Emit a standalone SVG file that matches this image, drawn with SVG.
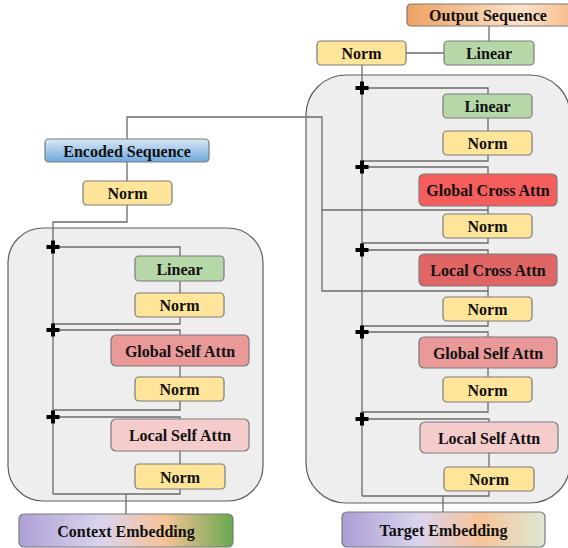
<svg xmlns="http://www.w3.org/2000/svg" width="568" height="548" viewBox="0 0 568 548">
<defs>
<linearGradient id="gBlue" x1="0" y1="0" x2="0" y2="1"><stop offset="0" stop-color="#d9e8f7"/><stop offset="1" stop-color="#6fa8dc"/></linearGradient>
<linearGradient id="gOrange" x1="0" y1="0" x2="1" y2="0"><stop offset="0" stop-color="#eda262"/><stop offset="0.7" stop-color="#fde3cc"/><stop offset="1" stop-color="#f6bd8b"/></linearGradient>
<linearGradient id="gCtx" x1="0" y1="0" x2="1" y2="0"><stop offset="0" stop-color="#aea0d4"/><stop offset="0.38" stop-color="#dad3ee"/><stop offset="0.68" stop-color="#f7c398"/><stop offset="1" stop-color="#6aa84f"/></linearGradient>
<linearGradient id="gTgt" x1="0" y1="0" x2="1" y2="0"><stop offset="0" stop-color="#aa9ed3"/><stop offset="0.38" stop-color="#dbd4ee"/><stop offset="0.68" stop-color="#f7c398"/><stop offset="1" stop-color="#dde8d2"/></linearGradient>
<path id="plus" d="M-6.5 -2 H-2 V-6.5 H2 V-2 H6.5 V2 H2 V6.5 H-2 V2 H-6.5 Z"/>
</defs>
<style>
.box{stroke:#7a7a7a;stroke-width:1.2}
.norm{fill:#ffe599}
.lin{fill:#b6d7a8}
.gsa{fill:#ea9999}
.lsa{fill:#f4cccc}
.gca{fill:#f65d5d}
.lca{fill:#e06666}
.cont{fill:#eeeeee;stroke:#5f5f5f;stroke-width:1.2}
text{font-family:"Liberation Serif","Times New Roman",serif;font-weight:bold;font-size:16px;fill:#111;text-anchor:middle;dominant-baseline:central}
.c{fill:none;stroke:#6b6b6b;stroke-width:1.3}
.p{fill:#000}
</style>

<g id="containers">
<rect class="cont" x="8" y="228" width="255" height="273" rx="35"/>
<rect class="cont" x="306" y="75" width="264" height="428" rx="40"/>
</g>

<g id="connectors">
<path class="c" d="M127 139 V117 H322 V291 H488"/>
<path class="c" d="M322 210 H488"/>
<path class="c" d="M127 162 V181"/>
<path class="c" d="M127 205 V222 H53 V494"/>
<path class="c" d="M53 247 H180 V256"/>
<path class="c" d="M180 281 V293"/>
<path class="c" d="M53 324 H180 V317"/>
<path class="c" d="M53 330 H180 V335"/>
<path class="c" d="M180 366 V377"/>
<path class="c" d="M53 410 H180 V401"/>
<path class="c" d="M53 417 H180 V419"/>
<path class="c" d="M180 451 V464"/>
<path class="c" d="M53 494 H180 V489"/>
<path class="c" d="M126 494 V514"/>
<path class="c" d="M489 26 V41"/>
<path class="c" d="M406 53 H444"/>
<path class="c" d="M362 65 V496"/>
<path class="c" d="M362 88 H488 V94"/>
<path class="c" d="M488 118 V131"/>
<path class="c" d="M362 161 H488 V155"/>
<path class="c" d="M362 167 H488 V174"/>
<path class="c" d="M488 206 V214"/>
<path class="c" d="M362 243 H488 V238"/>
<path class="c" d="M362 250 H488 V254"/>
<path class="c" d="M488 286 V297"/>
<path class="c" d="M362 326 H488 V321"/>
<path class="c" d="M362 332 H488 V337"/>
<path class="c" d="M488 368 V377"/>
<path class="c" d="M362 412 H488 V402"/>
<path class="c" d="M362 419 H489 V422"/>
<path class="c" d="M489 453 V467"/>
<path class="c" d="M362 496 H489 V491"/>
<path class="c" d="M443 496 V512"/>
<use href="#plus" class="p" x="53" y="247"/>
<use href="#plus" class="p" x="53" y="330"/>
<use href="#plus" class="p" x="53" y="417"/>
<use href="#plus" class="p" x="362" y="88"/>
<use href="#plus" class="p" x="362" y="167"/>
<use href="#plus" class="p" x="362" y="250"/>
<use href="#plus" class="p" x="362" y="332"/>
<use href="#plus" class="p" x="362" y="419"/>
</g>

<g id="encoded-sequence"><rect class="box" fill="url(#gBlue)" x="45" y="139" width="164" height="23" rx="4"/><text x="127" y="151">Encoded Sequence</text></g>
<g id="enc-norm"><rect class="box norm" x="83" y="181" width="89" height="24" rx="4"/><text x="127.5" y="193.5">Norm</text></g>
<g id="enc-linear"><rect class="box lin" x="135" y="256" width="89" height="25" rx="4"/><text x="179.5" y="269">Linear</text></g>
<g id="enc-norm1"><rect class="box norm" x="135" y="293" width="89" height="24" rx="4"/><text x="179.5" y="305.5">Norm</text></g>
<g id="enc-global-self"><rect class="box gsa" x="111" y="335" width="138" height="31" rx="5"/><text x="180" y="351">Global Self Attn</text></g>
<g id="enc-norm2"><rect class="box norm" x="135" y="377" width="89" height="24" rx="4"/><text x="179.5" y="389.5">Norm</text></g>
<g id="enc-local-self"><rect class="box lsa" x="111" y="419" width="138" height="32" rx="5"/><text x="180" y="435.5">Local Self Attn</text></g>
<g id="enc-norm3"><rect class="box norm" x="135" y="464" width="90" height="25" rx="4"/><text x="180" y="477">Norm</text></g>
<g id="context-embedding"><rect class="box" fill="url(#gCtx)" x="19" y="514" width="214" height="33" rx="5"/><text x="126" y="531">Context Embedding</text></g>

<g id="output-sequence"><rect class="box" fill="url(#gOrange)" x="407" y="4" width="164" height="22" rx="4"/><text x="488" y="15.5">Output Sequence</text></g>
<g id="dec-out-norm"><rect class="box norm" x="317" y="41" width="89" height="24" rx="4"/><text x="361.5" y="53.5">Norm</text></g>
<g id="dec-out-linear"><rect class="box lin" x="444" y="41" width="90" height="24" rx="4"/><text x="489" y="53.5">Linear</text></g>
<g id="dec-linear"><rect class="box lin" x="443" y="94" width="89" height="24" rx="4"/><text x="487.5" y="106.5">Linear</text></g>
<g id="dec-norm1"><rect class="box norm" x="443" y="131" width="89" height="24" rx="4"/><text x="487.5" y="143.5">Norm</text></g>
<g id="dec-global-cross"><rect class="box gca" x="419" y="174" width="138" height="32" rx="5"/><text x="488" y="190.5">Global Cross Attn</text></g>
<g id="dec-norm2"><rect class="box norm" x="443" y="214" width="89" height="24" rx="4"/><text x="487.5" y="226.5">Norm</text></g>
<g id="dec-local-cross"><rect class="box lca" x="419" y="254" width="138" height="32" rx="5"/><text x="488" y="270.5">Local Cross Attn</text></g>
<g id="dec-norm3"><rect class="box norm" x="443" y="297" width="89" height="24" rx="4"/><text x="487.5" y="309.5">Norm</text></g>
<g id="dec-global-self"><rect class="box gsa" x="419" y="337" width="138" height="31" rx="5"/><text x="488" y="353">Global Self Attn</text></g>
<g id="dec-norm4"><rect class="box norm" x="443" y="377" width="89" height="25" rx="4"/><text x="487.5" y="390">Norm</text></g>
<g id="dec-local-self"><rect class="box lsa" x="420" y="422" width="138" height="31" rx="5"/><text x="489" y="438">Local Self Attn</text></g>
<g id="dec-norm5"><rect class="box norm" x="444" y="467" width="90" height="24" rx="4"/><text x="489" y="479.5">Norm</text></g>
<g id="target-embedding"><rect class="box" fill="url(#gTgt)" x="342" y="512" width="203" height="35" rx="5"/><text x="443.5" y="530">Target Embedding</text></g>
</svg>
